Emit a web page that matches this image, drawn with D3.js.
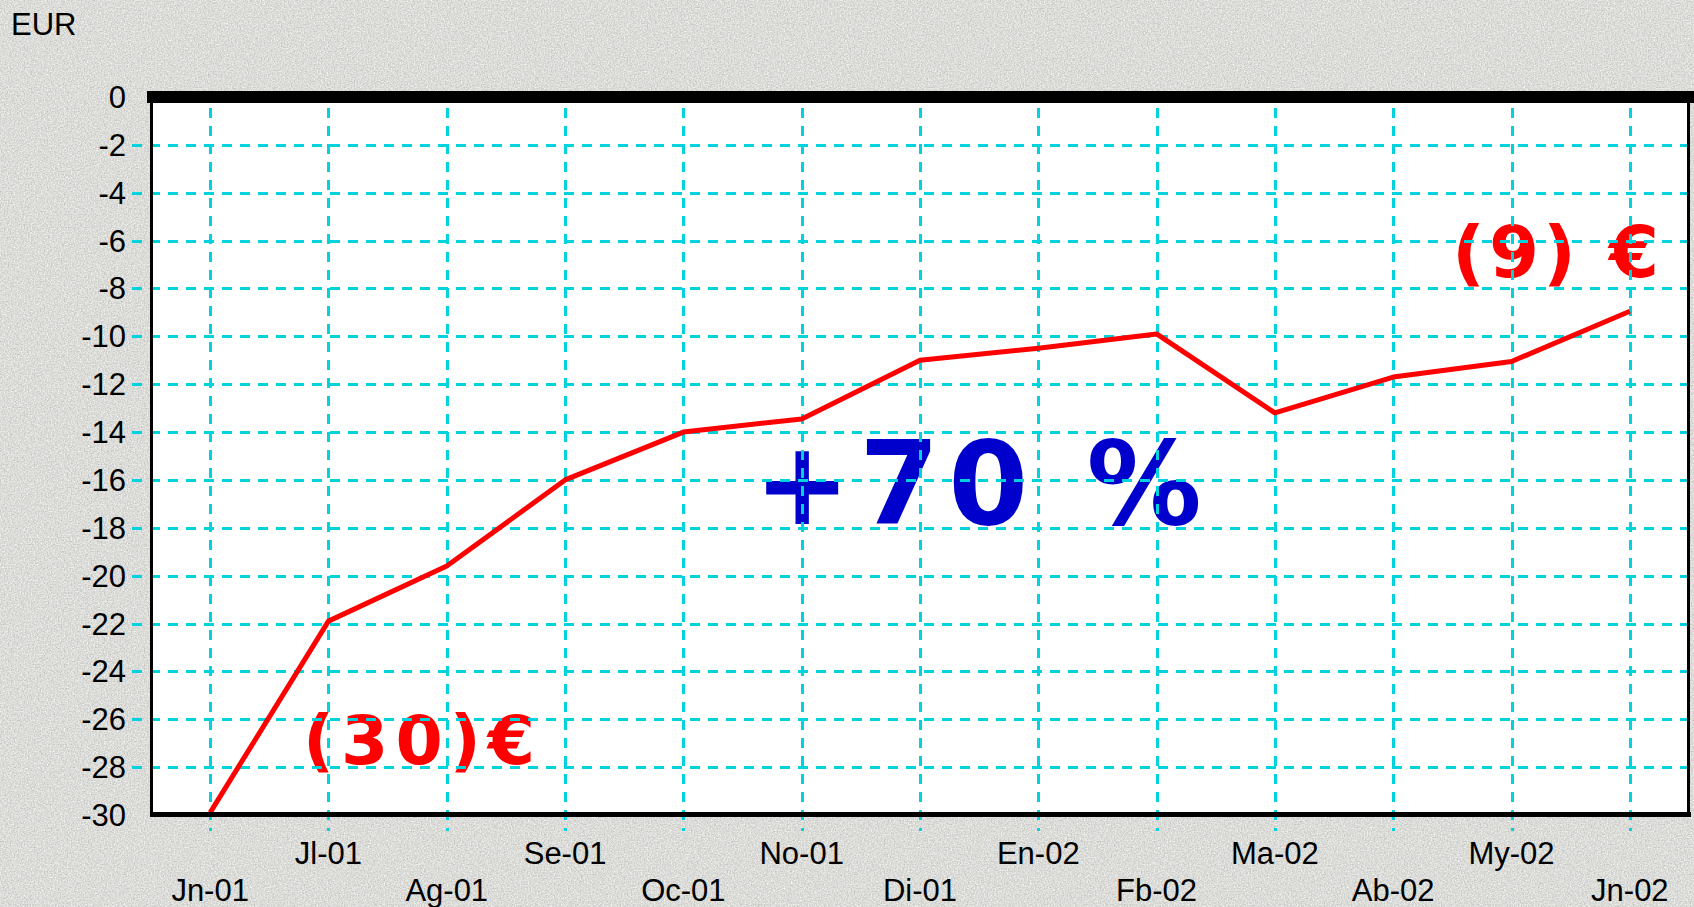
<!DOCTYPE html>
<html>
<head>
<meta charset="utf-8">
<script src="https://cdnjs.cloudflare.com/ajax/libs/d3/7.8.5/d3.min.js"></script>
<style>
  html, body { margin: 0; padding: 0; background: #d8d8d8; overflow: hidden; }
  svg { display: block; }
</style>
</head>
<body>
<svg id="chart" width="1694" height="907"></svg>
<script>
/*
**************************************** DATA **************************
*/
var months = ["Jn-01", "Jl-01", "Ag-01", "Se-01", "Oc-01", "No-01", "Di-01",
              "En-02", "Fb-02", "Ma-02", "Ab-02", "My-02", "Jn-02"];
var values = [-29.9, -21.9, -19.6, -16.0, -14.0, -13.45, -11.0,
              -10.5, -9.9, -13.2, -11.7, -11.05, -8.95];
var yTicks = [0, -2, -4, -6, -8, -10, -12, -14, -16, -18, -20, -22, -24, -26, -28, -30];
var unitLabel = "EUR";
var startNote = "(30)€";
var endNote = "(9) €";
var changeNote = "+70 %";

/*
**************************************** Initial Parameters **************************
*/
var svg = d3.select("#chart"),
    width = +svg.attr("width"),
    height = +svg.attr("height");

// note: "top" is taken by window.top, so plot* names
var plotLeft = 151, plotRight = 1689, plotTop = 97, plotBottom = 815;
var gridColor = "#00d2de";

var x = d3.scalePoint().domain(months).range([plotLeft, plotRight]).padding(0.5);
var y = d3.scaleLinear().domain([-30, 0]).range([plotBottom, plotTop]);

// granite-ish background
var defs = svg.append("defs");
var noise = defs.append("filter").attr("id", "granite")
    .attr("x", 0).attr("y", 0).attr("width", "100%").attr("height", "100%")
    .attr("color-interpolation-filters", "sRGB");
noise.append("feTurbulence").attr("type", "fractalNoise")
    .attr("baseFrequency", 0.7).attr("numOctaves", 2).attr("seed", 4);
noise.append("feColorMatrix").attr("type", "matrix")
    .attr("values", "0.3 0 0 0 0.71  0.3 0 0 0 0.71  0.3 0 0 0 0.7  0 0 0 0 1");

svg.append("rect").attr("width", width).attr("height", height).attr("fill", "#d8d8d8");
svg.append("rect").attr("width", width).attr("height", height).attr("filter", "url(#granite)");

// plot area
svg.append("rect")
    .attr("x", plotLeft).attr("y", plotTop)
    .attr("width", plotRight - plotLeft).attr("height", plotBottom - plotTop)
    .attr("fill", "#ffffff");

/*
**************************************** Texts under the grid **************************
*/
var bold = "'DejaVu Sans', Verdana, sans-serif";

svg.append("text")
    .attr("x", 303).attr("y", 764)
    .attr("font-family", bold).attr("font-weight", "bold")
    .attr("font-size", 68).attr("letter-spacing", 7)
    .attr("fill", "#ff0000")
    .text(startNote);

svg.append("text")
    .attr("x", 1452).attr("y", 277)
    .attr("font-family", bold).attr("font-weight", "bold")
    .attr("font-size", 72).attr("letter-spacing", 4)
    .attr("fill", "#ff0000")
    .text(endNote);

svg.append("text")
    .attr("x", 754).attr("y", 524)
    .attr("font-family", bold).attr("font-weight", "bold")
    .attr("font-size", 115).attr("letter-spacing", 9)
    .attr("fill", "#0000cc")
    .text(changeNote);

/*
**************************************** Grid **************************
*/
var grid = svg.append("g").attr("stroke", gridColor).attr("stroke-width", 3)
    .attr("stroke-dasharray", "10,8").attr("shape-rendering", "crispEdges");

grid.selectAll(".hgrid")
    .data(yTicks.filter(function (d) { return d !== 0 && d !== -30; }))
    .enter().append("line")
    .attr("class", "hgrid")
    .attr("x1", 132).attr("x2", plotRight)
    .attr("y1", function (d) { return Math.round(y(d)); })
    .attr("y2", function (d) { return Math.round(y(d)); });

grid.selectAll(".vgrid")
    .data(months)
    .enter().append("line")
    .attr("class", "vgrid")
    .attr("x1", function (d) { return Math.round(x(d)); })
    .attr("x2", function (d) { return Math.round(x(d)); })
    .attr("y1", 108).attr("y2", 831);

/*
**************************************** Line **************************
*/
var line = d3.line()
    .x(function (d, i) { return x(months[i]); })
    .y(function (d) { return y(d); });

svg.append("path")
    .datum(values)
    .attr("d", line)
    .attr("fill", "none")
    .attr("stroke", "#ff0000")
    .attr("stroke-width", 5)
    .attr("stroke-linejoin", "round");

/*
**************************************** Frame **************************
*/
svg.append("rect").attr("x", 147).attr("y", 91).attr("width", width - 147).attr("height", 12).attr("fill", "#000");
svg.append("rect").attr("x", 150).attr("y", plotTop).attr("width", 3).attr("height", plotBottom - plotTop + 2).attr("fill", "#000");
svg.append("rect").attr("x", 150).attr("y", 812).attr("width", plotRight - 150 + 2).attr("height", 5).attr("fill", "#000");
svg.append("rect").attr("x", 1687).attr("y", plotTop).attr("width", 3).attr("height", plotBottom - plotTop + 2).attr("fill", "#000");

/*
**************************************** Axes labels **************************
*/
var plain = "'Liberation Sans', Arial, sans-serif";

svg.append("text")
    .attr("x", 11).attr("y", 35)
    .attr("font-family", plain).attr("font-size", 31)
    .attr("fill", "#000")
    .text(unitLabel);

svg.append("g").selectAll("text")
    .data(yTicks)
    .enter().append("text")
    .attr("x", 126)
    .attr("y", function (d) { return y(d) + 11; })
    .attr("text-anchor", "end")
    .attr("font-family", plain).attr("font-size", 31)
    .attr("fill", "#000")
    .text(function (d) { return d; });

svg.append("g").selectAll("text")
    .data(months)
    .enter().append("text")
    .attr("x", function (d) { return x(d); })
    .attr("y", function (d, i) { return i % 2 === 0 ? 901 : 864; })
    .attr("text-anchor", "middle")
    .attr("font-family", plain).attr("font-size", 31)
    .attr("fill", "#000")
    .text(function (d) { return d; });
</script>
</body>
</html>
